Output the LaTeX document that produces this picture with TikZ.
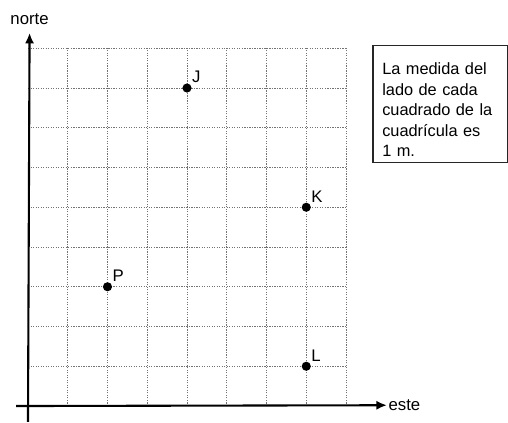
\documentclass[tikz,border=0pt]{standalone}
\usepackage{fontspec}
\setmainfont{Liberation Sans}
\usetikzlibrary{arrows.meta}

\begin{document}
\begin{tikzpicture} [axis/.style={line width=1.5pt, -{Latex[length=7.5pt, width=6.5pt]}},
 			      rejilla/.style={black!55, line width=0.7pt, dash pattern=on 0.9pt off 0.9pt},
 			      punto/.style={circle, fill, inner sep=0pt, minimum size=0.23cm},
 			      letra/.style={font=\fontsize{12}{14}\selectfont}]
    \useasboundingbox (-0.704,-0.4025) rectangle (12.075,10.214);
    % cuadricula
    \foreach \x in {1,...,8} \draw[rejilla] (\x,0) -- (\x,9);
    \foreach \y in {1,...,9} \draw[rejilla] (0,\y) -- (8,\y);
    % ejes
    \coordinate (o1) at (-0.3,0);
    \coordinate (o2) at (0,-0.4);
    \node[letra, anchor=west, inner sep=1pt] (este) at (9.03,0.02) {este};
    \node[letra] (norte) at (0.04,9.72) {norte};
    \draw[axis] (o1) -- (este.west);
    \draw[axis] (o2) -- ([yshift=-2pt]norte.south);
    % puntos
    \node[punto, label={[letra, inner sep=0pt, label distance=1.5pt]45:J}] (J) at (4,8) {};
    \node[punto, label={[letra, inner sep=0pt, label distance=1.5pt]45:K}] (K) at (7,5) {};
    \node[punto, label={[letra, inner sep=0pt, label distance=1.5pt]45:P}] (P) at (2,3) {};
    \node[punto, label={[letra, inner sep=0pt, label distance=1.5pt]45:L}] (L) at (7,1) {};
    % recuadro
    \node[draw=black!85, line width=0.9pt, anchor=north west, minimum width=3.38cm, minimum height=2.94cm] (nota) at (8.66,9.08) {};
    \node[anchor=north west, inner sep=0pt, text width=3.2cm, align=left, font=\fontsize{11.7}{14.7}\selectfont] (texto) at ([xshift=7pt, yshift=-12.6pt]nota.north west) {La medida del\\ lado de cada\\ cuadrado de la\\ cuadrícula es\\ 1 m.};
\end{tikzpicture}
\end{document}
